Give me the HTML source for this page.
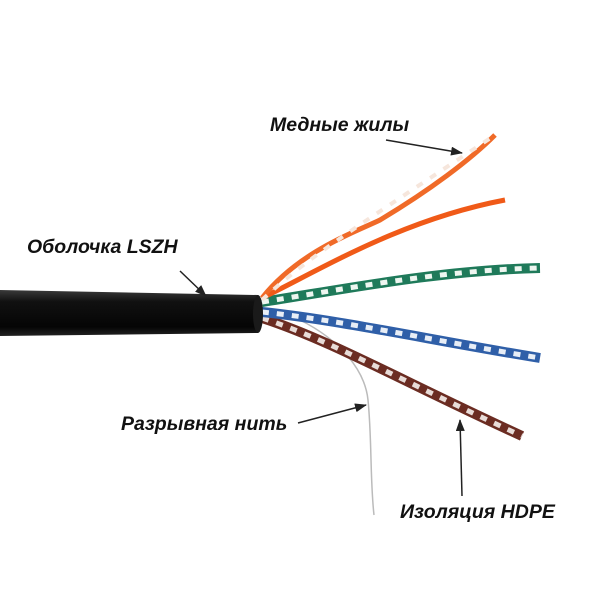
<!DOCTYPE html>
<html><head><meta charset="utf-8"><style>
html,body{margin:0;padding:0;background:#fff;}
svg{display:block;}
text{font-family:"Liberation Sans",sans-serif;font-weight:bold;font-style:italic;font-size:19.5px;fill:#111;}
</style></head><body>
<svg width="600" height="600" viewBox="0 0 600 600">
<defs>
<linearGradient id="jk" x1="0" y1="0" x2="0" y2="1">
<stop offset="0" stop-color="#3a3a3a"/><stop offset="0.25" stop-color="#111"/><stop offset="0.8" stop-color="#050505"/><stop offset="1" stop-color="#222"/>
</linearGradient>
<marker id="ar" markerWidth="12" markerHeight="9" refX="11" refY="4.5" orient="auto" markerUnits="userSpaceOnUse"><path d="M0,0 L12,4.5 L0,9 z" fill="#222"/></marker>
</defs>
<path d="M300,320 C340,340 365,370 368,400 C372,440 370,480 374,515" stroke="#bbb" stroke-width="1.5" fill="none"/>
<path d="M262,318 C330,340 400,380 522,436" stroke="#6b2c22" stroke-width="10" fill="none"/>
<path d="M262,318 C330,340 400,380 522,436" stroke="#e8dcd8" stroke-width="5" stroke-dasharray="7 8" fill="none"/>
<path d="M262,312 C340,320 430,340 540,358" stroke="#2f5fa8" stroke-width="10" fill="none"/>
<path d="M262,312 C340,320 430,340 540,358" stroke="#e8eef6" stroke-width="5" stroke-dasharray="7 8" fill="none"/>
<path d="M262,302 C340,290 440,270 540,268" stroke="#1f7a5a" stroke-width="10" fill="none"/>
<path d="M262,302 C340,290 440,270 540,268" stroke="#eef6f0" stroke-width="5" stroke-dasharray="7 8" fill="none"/>
<path d="M262,298 C320,270 400,220 505,200" stroke="#f05a18" stroke-width="5" fill="none"/>
<path d="M262,298 C300,250 360,230 380,220 C430,190 470,160 495,135" stroke="#f06a28" stroke-width="5" fill="none"/>
<path d="M262,300 C310,255 360,225 495,135" stroke="#f6e6dc" stroke-width="4" stroke-dasharray="7 9" fill="none"/>
<path d="M0,290 L258,295 L258,333 L0,336 z" fill="url(#jk)"/>
<ellipse cx="258" cy="314" rx="5" ry="19" fill="#1a1a1a"/>
<text x="270" y="131">Медные жилы</text>
<line x1="386" y1="140" x2="462" y2="153" stroke="#222" stroke-width="1.5" marker-end="url(#ar)"/>
<text x="27" y="253">Оболочка LSZH</text>
<line x1="180" y1="271" x2="206" y2="296" stroke="#222" stroke-width="1.5" marker-end="url(#ar)"/>
<text x="121" y="430">Разрывная нить</text>
<line x1="298" y1="423" x2="366" y2="405" stroke="#222" stroke-width="1.5" marker-end="url(#ar)"/>
<text x="400" y="518">Изоляция HDPE</text>
<line x1="462" y1="496" x2="460" y2="420" stroke="#222" stroke-width="1.5" marker-end="url(#ar)"/>
</svg>
</body></html>
